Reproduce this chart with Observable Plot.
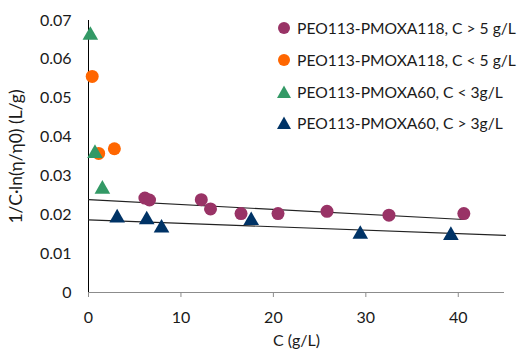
<!DOCTYPE html>
<html>
<head>
<meta charset="utf-8">
<script src="https://cdn.jsdelivr.net/npm/d3@7"></script>
<script src="https://cdn.jsdelivr.net/npm/@observablehq/plot@0.6"></script>
<style>
  html, body { margin: 0; padding: 0; background: #fff; overflow: hidden; }
  #chart { position: relative; width: 521px; height: 349px; font-family: Lato, "Liberation Sans", sans-serif; }
  #legend { position: absolute; left: 275px; top: 12.5px; width: 246px; font-size: 15.5px; color: #1a1a1a; }
  #legend .row { display: flex; align-items: center; height: 31.7px; white-space: nowrap; }
  #legend svg { flex: none; width: 18px; height: 16px; margin-right: 4px; }
  #legend span { flex: none; }
</style>
</head>
<body>
<div id="chart"></div>
<script>
// Series: concentration C (g/L) and inherent viscosity 1/C·ln(η/η0) (L/g)
const seriesNames = [
  "PEO113-PMOXA118, C > 5 g/L",
  "PEO113-PMOXA118, C < 5 g/L",
  "PEO113-PMOXA60, C < 3g/L",
  "PEO113-PMOXA60, C > 3g/L"
];
const seriesColors = ["#993366", "#ff6600", "#339966", "#003366"];
const seriesSymbols = ["circle", "circle", "triangle", "triangle"];

const pmoxa118HighC = [6.1, 6.6, 12.2, 13.2, 16.5, 20.5, 25.8, 32.5, 40.6];
const pmoxa118HighV = [0.0243, 0.0238, 0.0239, 0.0215, 0.0203, 0.0203, 0.0209, 0.0199, 0.0203];

const pmoxa118LowC = [0.4, 1.1, 2.8];
const pmoxa118LowV = [0.0556, 0.0358, 0.0370];

const pmoxa60LowC = [0.2, 0.7, 1.5];
const pmoxa60LowV = [0.0662, 0.0358, 0.0266];

const pmoxa60HighC = [3.1, 6.3, 7.9, 17.6, 29.4, 39.2];
const pmoxa60HighV = [0.0192, 0.0187, 0.0166, 0.0185, 0.0150, 0.0147];

// Linear trend lines (end points)
const fit118C = [0, 40.6];
const fit118V = [0.0239, 0.0188];
const fit60C = [0, 45.1];
const fit60V = [0.0187, 0.0147];

const xTicks = [0, 10, 20, 30, 40];
const yTicks = [0, 0.01, 0.02, 0.03, 0.04, 0.05, 0.06, 0.07];

const toRows = (cs, vs, s) => cs.map((c, i) => ({C: c, v: vs[i], s}));
const points = [
  ...toRows(pmoxa118HighC, pmoxa118HighV, 0),
  ...toRows(pmoxa118LowC, pmoxa118LowV, 1),
  ...toRows(pmoxa60LowC, pmoxa60LowV, 2),
  ...toRows(pmoxa60HighC, pmoxa60HighV, 3)
];
const fit118 = toRows(fit118C, fit118V, 0);
const fit60 = toRows(fit60C, fit60V, 3);

const font = "Lato, 'Liberation Sans', sans-serif";

const plot = Plot.plot({
  width: 521,
  height: 349,
  marginLeft: 88,
  marginRight: 17,
  marginTop: 20,
  marginBottom: 57,
  style: {fontFamily: font, fontSize: "16px", color: "#1a1a1a", background: "#fff"},
  x: {domain: [0, 45], ticks: xTicks},
  y: {domain: [0, 0.07], ticks: yTicks},
  marks: [
    Plot.ruleY([0], {stroke: "#8c8c8c", strokeWidth: 1}),
    Plot.ruleX([0], {stroke: "#000", strokeWidth: 1}),
    Plot.axisX({ticks: xTicks, tickSize: 5, tickPadding: 14, stroke: "#8c8c8c", tickFormat: d => d, fontSize: 16,
      label: "C (g/L)", labelAnchor: "center", labelArrow: "none", labelOffset: 53}),
    Plot.axisY({ticks: yTicks, tickSize: 0, tickPadding: 17, tickFormat: d => d === 0 ? "0" : d3.format(".2f")(d), fontSize: 16,
      label: null}),
    Plot.axisY({ticks: [], tickSize: 0, fontSize: 17.5,
      label: "1/C·ln(η/η0) (L/g)", labelAnchor: "center", labelArrow: "none", labelOffset: 79}),
    Plot.line(fit118, {x: "C", y: "v", stroke: "#222", strokeWidth: 1.1}),
    Plot.line(fit60, {x: "C", y: "v", stroke: "#222", strokeWidth: 1.1}),
    Plot.dot(points.filter(d => seriesSymbols[d.s] === "circle"), {
      x: "C", y: "v", r: 6.5, symbol: "circle",
      fill: d => seriesColors[d.s], stroke: "none"
    }),
    Plot.dot(points.filter(d => seriesSymbols[d.s] === "triangle"), {
      x: "C", y: "v", r: 5.8, symbol: "triangle",
      fill: d => seriesColors[d.s], stroke: "none"
    })
  ]
});

const chart = document.getElementById("chart");
chart.appendChild(plot);

// Legend overlaid on the upper right of the plot area
const legend = document.createElement("div");
legend.id = "legend";
const labels = [];
seriesNames.forEach((name, i) => {
  const row = document.createElement("div");
  row.className = "row";
  const shape = seriesSymbols[i] === "circle"
    ? `<circle cx="9" cy="8" r="6" fill="${seriesColors[i]}"/>`
    : `<path d="M9,1.5 L16,14 L2,14 Z" fill="${seriesColors[i]}"/>`;
  row.innerHTML = `<svg viewBox="0 0 18 16">${shape}</svg><span>${name}</span>`;
  labels.push(row.querySelector("span"));
  legend.appendChild(row);
});
chart.appendChild(legend);

// Fit the longest legend entry into the space right of the markers
const widest = Math.max(...labels.map(s => s.getBoundingClientRect().width));
const maxWidth = 219;
if (widest > 0) {
  const size = 15.5 * maxWidth / widest;
  legend.style.fontSize = Math.min(size, 17) + "px";
}
</script>
</body>
</html>
